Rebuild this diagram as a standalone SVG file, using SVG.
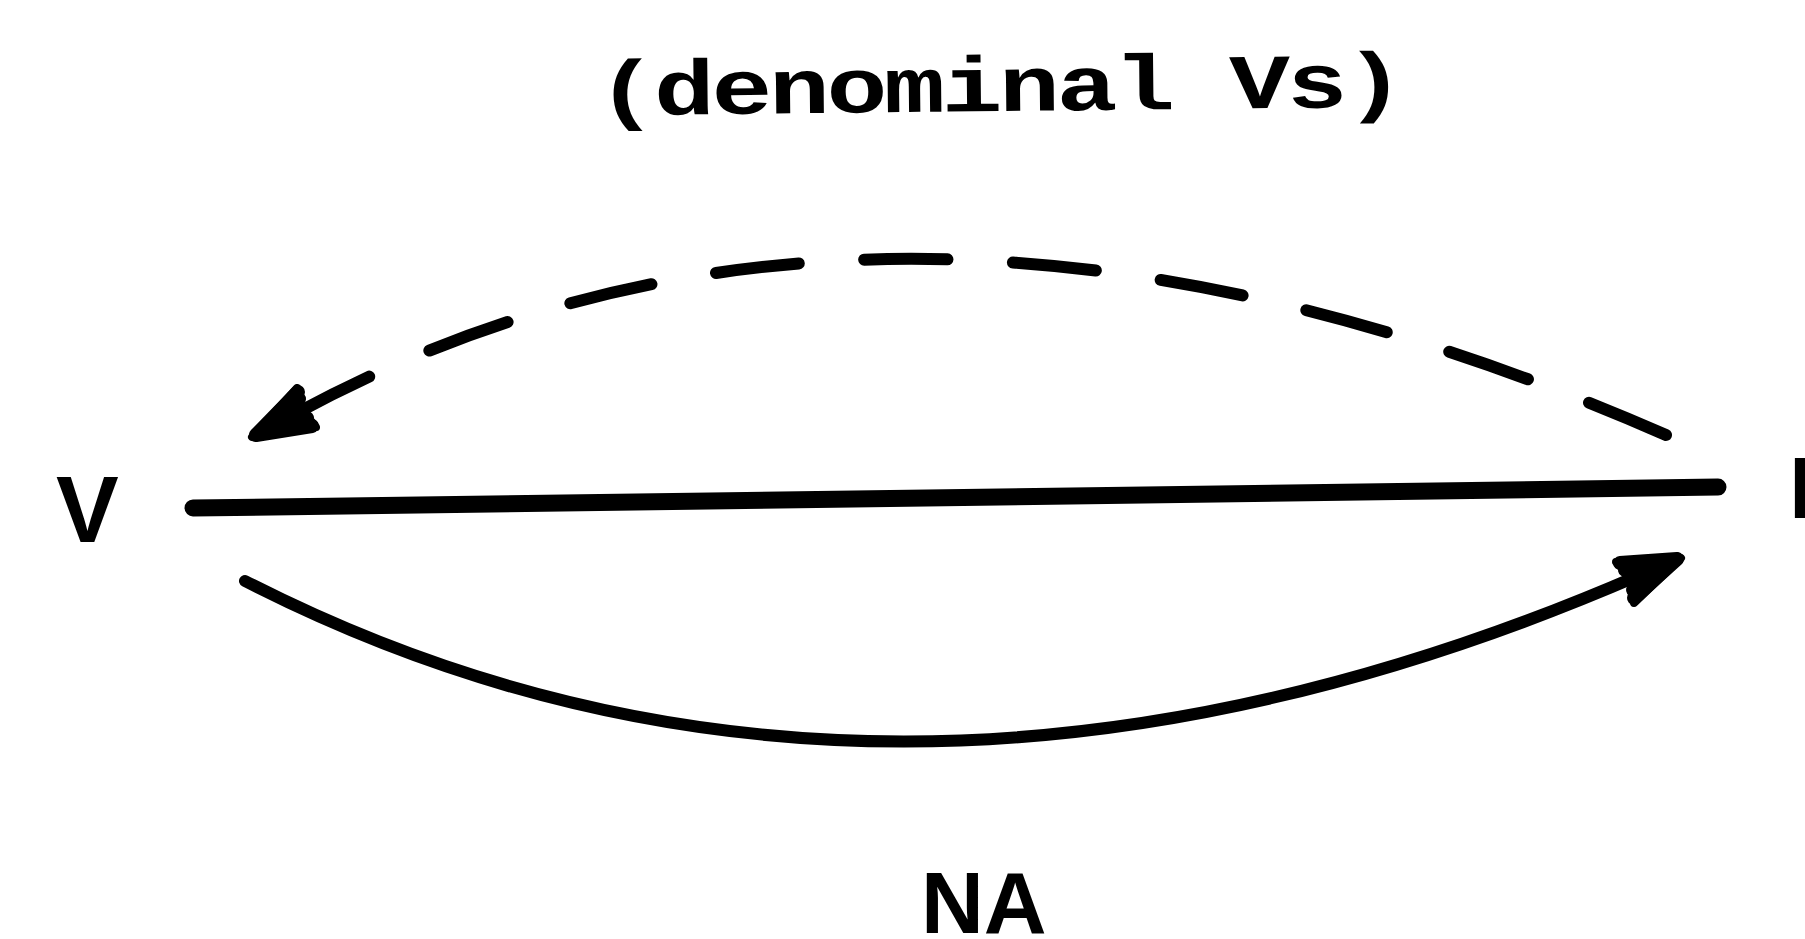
<svg xmlns="http://www.w3.org/2000/svg" width="1805" height="939" viewBox="0 0 1805 939">
<style>
.lbl{font-family:"Liberation Sans",Arial,sans-serif;font-weight:bold;fill:#000}
.ttl{font-family:"Liberation Mono","Courier New",monospace;font-weight:bold;fill:#000}
.ln{fill:none;stroke:#000;stroke-linecap:round;stroke-linejoin:round}
.head{fill:#000;stroke:#000;stroke-width:8;stroke-linejoin:round}
.fan{fill:none;stroke:#000;stroke-width:14;stroke-linecap:round}
</style>
<rect width="1805" height="939" fill="#fff"/>
<g id="title">
<text class="ttl" x="0" y="0" font-size="78" text-anchor="middle" textLength="622" lengthAdjust="spacing" transform="translate(1001,111) rotate(-0.6) scale(1.3,1)">(denominal Vs)</text>
</g>
<g id="node-V">
<text class="lbl" x="56" y="542" font-size="94">V</text>
</g>
<g id="node-N">
<text class="lbl" x="1789" y="518" font-size="88">N</text>
</g>
<g id="label-NA">
<text class="lbl" x="921" y="933" font-size="87">NA</text>
</g>
<g id="connectors">
<path class="ln" d="M193,508 L1718,487" stroke-width="17"/>
<path class="ln" d="M1666,435 Q884,93 293,415" stroke-width="12" pathLength="1436" stroke-dasharray="84 66"/>
<polygon class="head" points="252,437 316,427 302,410 297,388"/>
<path class="fan" d="M256,435 L312,426 M256,435 L307,418 M256,435 L301,410 M256,435 L299,399 M256,435 L298,392"/>
<path class="ln" d="M245,581 Q878,905 1640,575" stroke-width="12"/>
<polygon class="head" points="1681,558 1616,562 1632,578 1634,603"/>
<path class="fan" d="M1677,559 L1620,563 M1677,559 L1625,570 M1677,559 L1632,578 M1677,559 L1633,590 M1677,559 L1634,598"/>
</g>
</svg>
